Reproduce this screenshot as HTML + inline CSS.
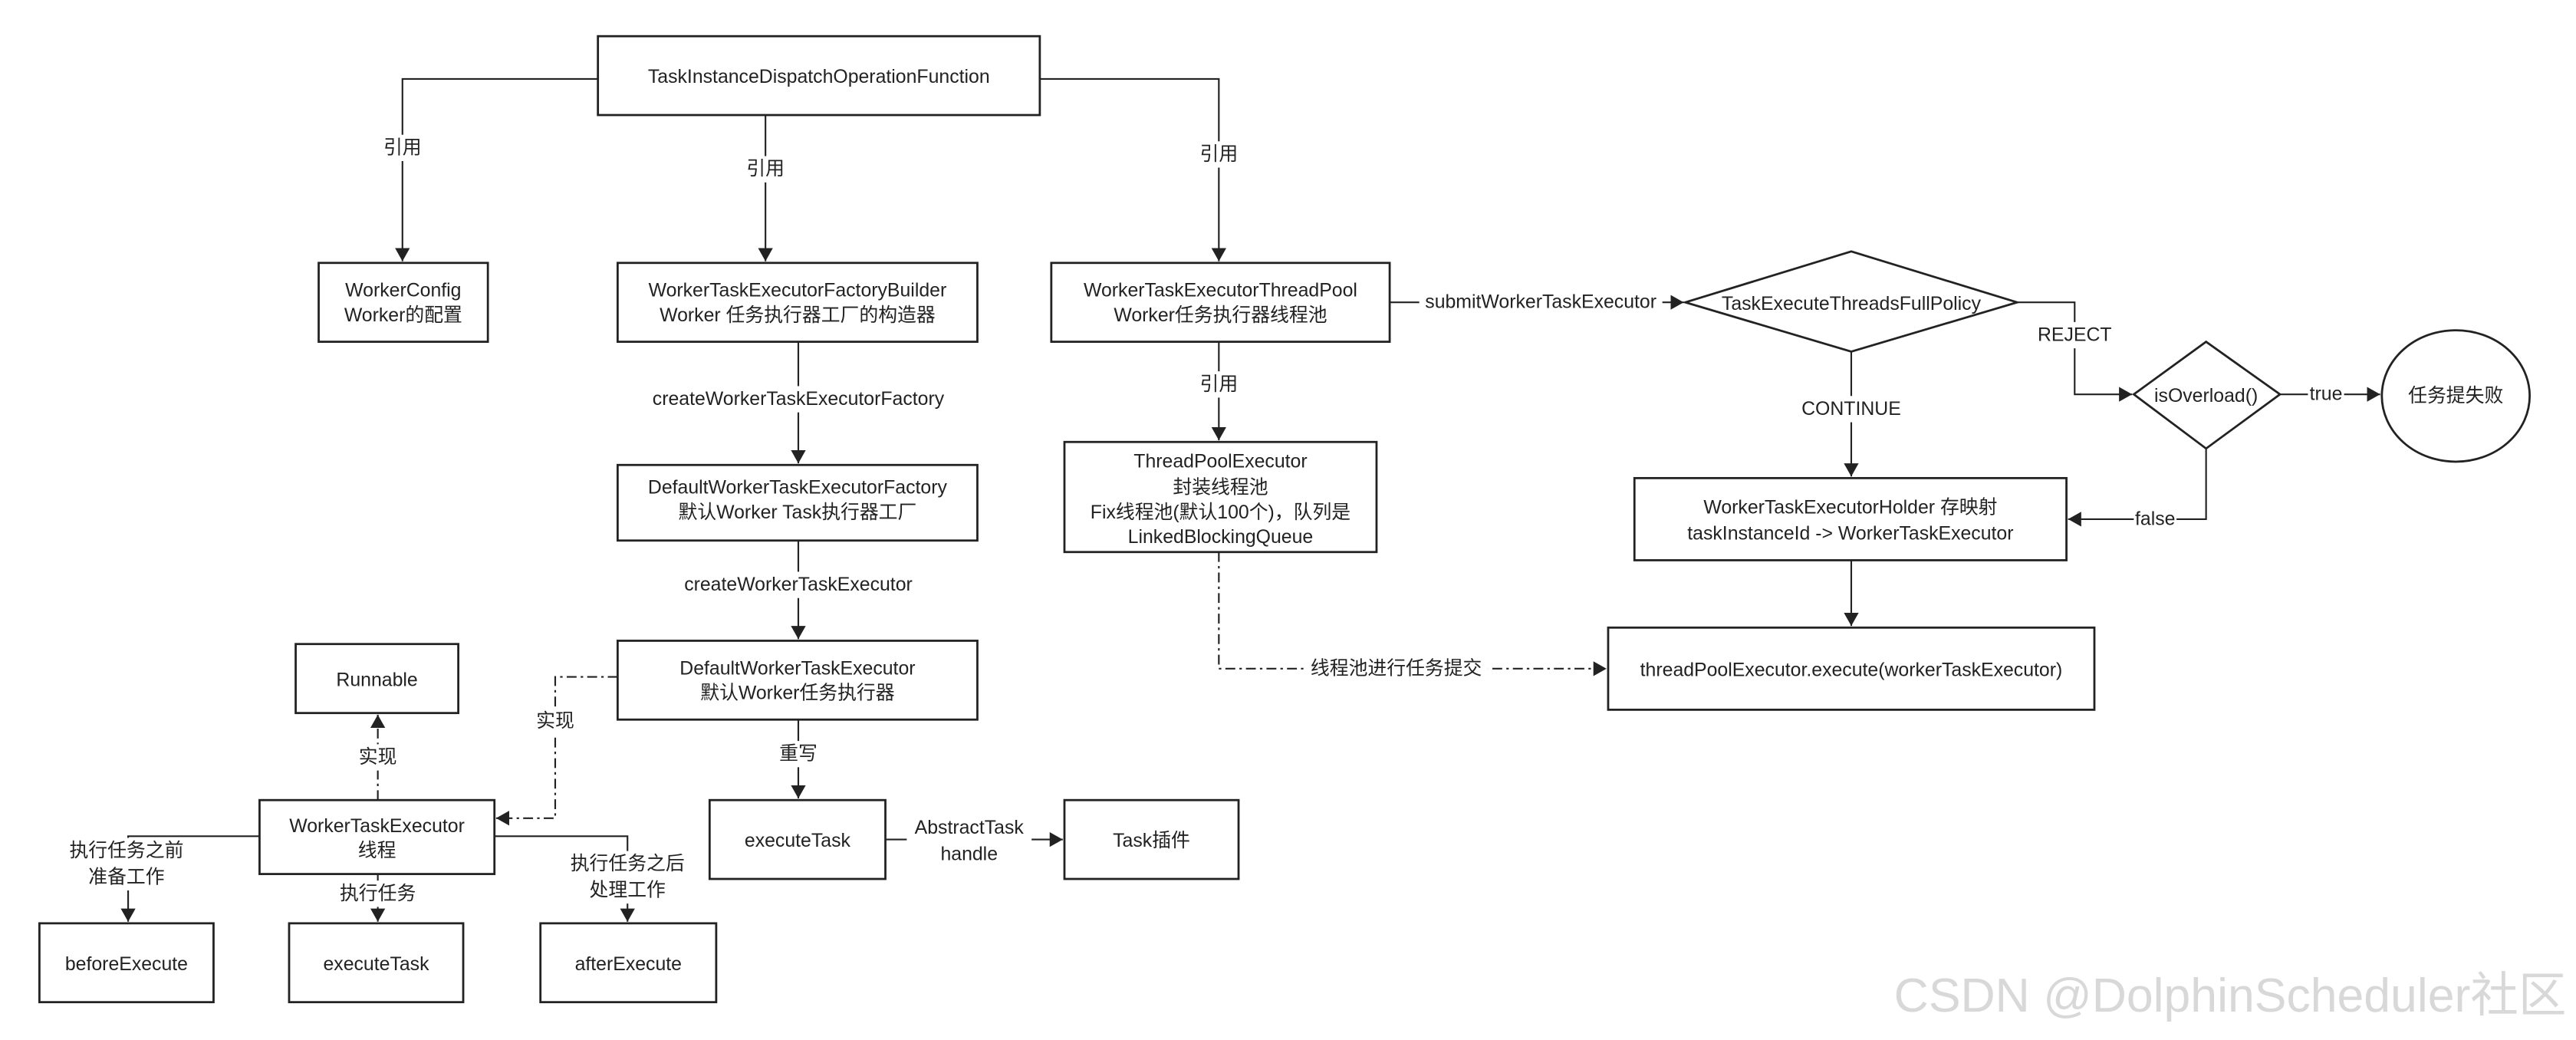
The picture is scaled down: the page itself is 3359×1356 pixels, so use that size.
<!DOCTYPE html>
<html><head><meta charset="utf-8"><style>
html,body{margin:0;padding:0;background:#fff;}
svg{display:block;}
text{font-family:"Liberation Sans","Noto Sans CJK SC",sans-serif;font-size:11.6px;fill:#222;text-anchor:middle;dominant-baseline:central;}
.b{fill:#fff;stroke:#222;stroke-width:1.3;}
.l{fill:none;stroke:#222;stroke-width:1;}
.d{fill:none;stroke:#222;stroke-width:1;stroke-dasharray:6,2.5,1.5,2.5;}
.bg{fill:#fff;stroke:none;}
</style></head><body>
<svg width="3359" height="1356" viewBox="0 0 1568.2 633" xmlns="http://www.w3.org/2000/svg">
<defs>
<marker id="a" markerUnits="userSpaceOnUse" markerWidth="10" markerHeight="10" refX="8" refY="4.5" orient="auto"><path d="M0,0 L8,4.5 L0,9 Z" fill="#222"/></marker>
</defs>
<rect width="1568.2" height="633" fill="#fff"/>

<path class="l" d="M364,48 H245 V159" marker-end="url(#a)"/>
<rect class="bg" x="232" y="82" width="26" height="16"/><text x="245" y="90">引用</text>
<path class="l" d="M466,70 V159" marker-end="url(#a)"/>
<rect class="bg" x="453" y="95" width="26" height="16"/><text x="466" y="103">引用</text>
<path class="l" d="M633,48 H742 V159" marker-end="url(#a)"/>
<rect class="bg" x="729" y="86" width="26" height="16"/><text x="742" y="94">引用</text>

<path class="l" d="M846,184 H1025" marker-end="url(#a)"/>
<rect class="bg" x="864" y="176" width="148" height="16"/><text x="938" y="184">submitWorkerTaskExecutor</text>

<path class="l" d="M1228,184 H1263 V240 H1298" marker-end="url(#a)"/>
<rect class="bg" x="1238" y="196" width="50" height="16"/><text x="1263" y="204">REJECT</text>
<path class="l" d="M1388,240 H1449" marker-end="url(#a)"/>
<rect class="bg" x="1405" y="232" width="22" height="16"/><text x="1416" y="240">true</text>
<path class="l" d="M1343,273 V316 H1259" marker-end="url(#a)"/>
<rect class="bg" x="1299" y="308" width="26" height="16"/><text x="1312" y="316">false</text>
<path class="l" d="M1127,214 V290" marker-end="url(#a)"/>
<rect class="bg" x="1093" y="241" width="68" height="16"/><text x="1127" y="249">CONTINUE</text>
<path class="l" d="M1127,341 V381" marker-end="url(#a)"/>

<path class="l" d="M742,208 V268" marker-end="url(#a)"/>
<rect class="bg" x="729" y="226" width="26" height="16"/><text x="742" y="234">引用</text>
<path class="d" d="M742,336 V407 H978" marker-end="url(#a)"/>
<rect class="bg" x="794" y="399" width="112" height="16"/><text x="850" y="407">线程池进行任务提交</text>

<path class="l" d="M486,208 V282" marker-end="url(#a)"/>
<rect class="bg" x="390" y="235" width="192" height="16"/><text x="486" y="243">createWorkerTaskExecutorFactory</text>
<path class="l" d="M486,329 V389" marker-end="url(#a)"/>
<rect class="bg" x="410" y="348" width="152" height="16"/><text x="486" y="356">createWorkerTaskExecutor</text>
<path class="l" d="M486,438 V486" marker-end="url(#a)"/>
<rect class="bg" x="473" y="451" width="26" height="16"/><text x="486" y="459">重写</text>
<path class="l" d="M539,511 H647" marker-end="url(#a)"/>
<rect class="bg" x="552" y="496" width="76" height="32"/><text x="590" y="504">AbstractTask</text><text x="590" y="520">handle</text>

<path class="d" d="M376,412 H338 V498 H302" marker-end="url(#a)"/>
<rect class="bg" x="325" y="431" width="26" height="16"/><text x="338" y="439">实现</text>
<path class="d" d="M230,487 V435" marker-end="url(#a)"/>
<rect class="bg" x="217" y="453" width="26" height="16"/><text x="230" y="461">实现</text>

<path class="l" d="M158,509 H78 V561" marker-end="url(#a)"/>
<rect class="bg" x="38" y="510" width="80" height="32"/><text x="77" y="518">执行任务之前</text><text x="77" y="534">准备工作</text>
<path class="l" d="M230,532 V561" marker-end="url(#a)"/>
<rect class="bg" x="204" y="536" width="52" height="16"/><text x="230" y="544">执行任务</text>
<path class="l" d="M301,509 H382 V561" marker-end="url(#a)"/>
<rect class="bg" x="342" y="518" width="80" height="32"/><text x="382" y="526">执行任务之后</text><text x="382" y="542">处理工作</text>

<rect class="b" x="364" y="22" width="269" height="48"/><text x="498.5" y="47">TaskInstanceDispatchOperationFunction</text>
<rect class="b" x="194" y="160" width="103" height="48"/><text x="245.5" y="177">WorkerConfig</text><text x="245.5" y="192">Worker的配置</text>
<rect class="b" x="376" y="160" width="219" height="48"/><text x="485.5" y="177">WorkerTaskExecutorFactoryBuilder</text><text x="485.5" y="192">Worker 任务执行器工厂的构造器</text>
<rect class="b" x="640" y="160" width="206" height="48"/><text x="743" y="177">WorkerTaskExecutorThreadPool</text><text x="743" y="192">Worker任务执行器线程池</text>
<polygon class="b" points="1026,184 1127,153 1228,184 1127,214"/><text x="1127" y="185">TaskExecuteThreadsFullPolicy</text>
<polygon class="b" points="1299,240 1343,208 1388,240 1343,273"/><text x="1343" y="241">isOverload()</text>
<ellipse class="b" cx="1495" cy="241" rx="45" ry="40"/><text x="1495" y="241">任务提失败</text>
<rect class="b" x="995" y="291" width="263" height="50"/><text x="1126.5" y="309">WorkerTaskExecutorHolder 存映射</text><text x="1126.5" y="325">taskInstanceId -&gt; WorkerTaskExecutor</text>
<rect class="b" x="979" y="382" width="296" height="50"/><text x="1127" y="408">threadPoolExecutor.execute(workerTaskExecutor)</text>
<rect class="b" x="648" y="269" width="190" height="67"/><text x="743" y="281">ThreadPoolExecutor</text><text x="743" y="297">封装线程池</text><text x="743" y="312">Fix线程池(默认100个)，队列是</text><text x="743" y="327">LinkedBlockingQueue</text>
<rect class="b" x="376" y="283" width="219" height="46"/><text x="485.5" y="297">DefaultWorkerTaskExecutorFactory</text><text x="485.5" y="312">默认Worker Task执行器工厂</text>
<rect class="b" x="376" y="390" width="219" height="48"/><text x="485.5" y="407">DefaultWorkerTaskExecutor</text><text x="485.5" y="422">默认Worker任务执行器</text>
<rect class="b" x="432" y="487" width="107" height="48"/><text x="485.5" y="512">executeTask</text>
<rect class="b" x="648" y="487" width="106" height="48"/><text x="701" y="512">Task插件</text>
<rect class="b" x="180" y="392" width="99" height="42"/><text x="229.5" y="414">Runnable</text>
<rect class="b" x="158" y="487" width="143" height="45"/><text x="229.5" y="503">WorkerTaskExecutor</text><text x="229.5" y="518">线程</text>
<rect class="b" x="24" y="562" width="106" height="48"/><text x="77" y="587">beforeExecute</text>
<rect class="b" x="176" y="562" width="106" height="48"/><text x="229" y="587">executeTask</text>
<rect class="b" x="329" y="562" width="107" height="48"/><text x="382.5" y="587">afterExecute</text>

<text x="1153" y="606" style="text-anchor:start;font-size:29.2px;fill:#d8d8d8;">CSDN @DolphinScheduler社区</text>
</svg>
</body></html>
